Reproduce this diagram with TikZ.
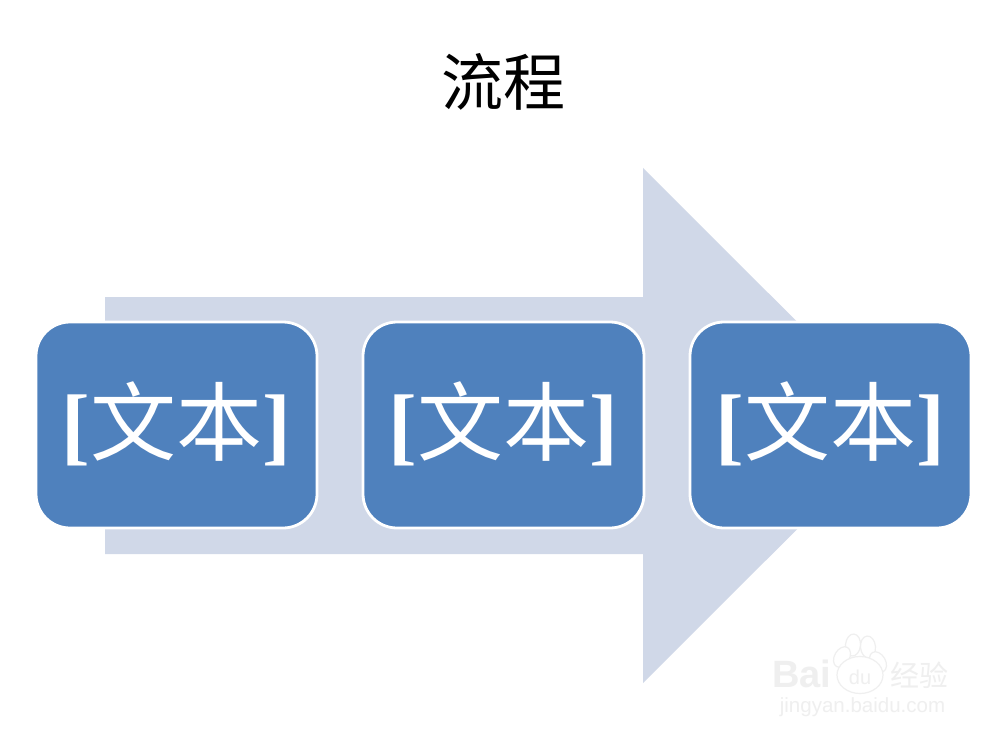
\documentclass[tikz,border=0pt]{standalone}
\usepackage{fontspec}
\setmainfont{Liberation Serif}
\newfontfamily\cjk{Noto Sans CJK SC}
\newfontfamily\wm{Liberation Sans}
\definecolor{boxblue}{HTML}{4F81BD}
\definecolor{arrowblue}{HTML}{D0D8E8}
\definecolor{wmgray}{HTML}{EFEFEF}
\tikzset{
  x=1pt,y=-1pt,
  stepbox/.style={draw=white,line width=2.8pt,fill=boxblue,rounded corners=34pt,minimum width=281pt,minimum height=206pt,inner sep=0pt,text=white},
  boxtext/.style={inner sep=0pt,text=white,font=\fontsize{86}{86}\selectfont},
  toe/.style={draw=wmgray,line width=1.2pt,fill=white,ellipse,inner sep=0pt},
  wmtext/.style={inner sep=0pt,text=wmgray}
}
\usetikzlibrary{shapes.geometric}
\newcommand{\boxlabel}{\textbf{[}{\cjk 文本}\textbf{]}}
\begin{document}
\begin{tikzpicture}
\useasboundingbox (0,0) rectangle (1007,741);
\fill[white] (0,0) rectangle (1007,741);
\node[inner sep=0pt,font=\cjk\fontsize{62}{62}\selectfont,text=black] (title) at (503,82) {流程};
\fill[arrowblue] (105,297) -- (643,297) -- (643,168) -- (901,425.5) -- (643,683) -- (643,554) -- (105,554) -- cycle;
\node[stepbox] (b1) at (176.5,425) {};
\node[stepbox] (b2) at (503.5,425) {};
\node[stepbox] (b3) at (830.5,425) {};
\node[boxtext] (t1) at (176,424) {\boxlabel};
\node[boxtext] (t2) at (503,424) {\boxlabel};
\node[boxtext] (t3) at (830,424) {\boxlabel};
% watermark
\node[wmtext,anchor=west,font=\wm\bfseries\fontsize{38}{38}\selectfont] (wa) at (772,674) {Bai};
\node[toe,minimum width=15pt,minimum height=22pt,rotate=-5] (p1) at (853,645) {};
\node[toe,minimum width=15pt,minimum height=22pt,rotate=5] (p2) at (868,647) {};
\node[toe,minimum width=15pt,minimum height=22pt,rotate=-30] (p3) at (842,657) {};
\node[toe,minimum width=15pt,minimum height=22pt,rotate=30] (p4) at (878,662) {};
\node[toe,minimum width=46pt,minimum height=37pt] (p5) at (860,675) {};
\node[wmtext,font=\wm\fontsize{20}{20}\selectfont] (wb) at (860,677) {du};
\node[wmtext,font=\cjk\fontsize{29}{29}\selectfont] (wc) at (919,675) {经验};
\node[wmtext,font=\wm\fontsize{20.5}{20.5}\selectfont] (wd) at (862.5,707) {jingyan.baidu.com};
\end{tikzpicture}
\end{document}
